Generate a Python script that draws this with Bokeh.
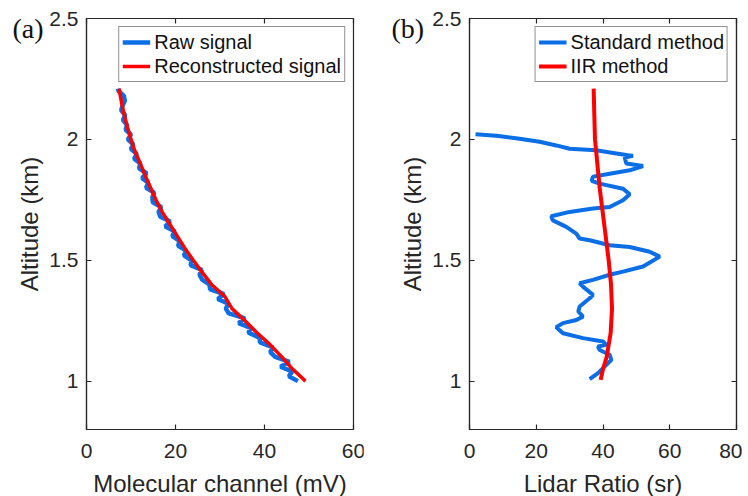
from bokeh.plotting import figure
from bokeh.layouts import row
from bokeh.models import LinearAxis, FixedTicker, Label, Range1d, CustomJSTickFormatter
from bokeh.embed import file_html
from bokeh.resources import INLINE

# ---------------- data ----------------
# panel (a): molecular channel (mV) vs altitude (km)
raw_alt = [1.00, 1.02, 1.04, 1.06, 1.08, 1.10, 1.12, 1.14, 1.16, 1.18, 1.20, 1.22, 1.24, 1.26, 1.28,
           1.30, 1.32, 1.34, 1.36, 1.38, 1.40, 1.42, 1.44, 1.46, 1.48, 1.50, 1.52, 1.54, 1.56, 1.58,
           1.60, 1.62, 1.64, 1.66, 1.68, 1.70, 1.72, 1.74, 1.76, 1.78, 1.80, 1.82, 1.84, 1.86, 1.88,
           1.90, 1.92, 1.94, 1.96, 1.98, 2.00, 2.02, 2.04, 2.06, 2.08, 2.10, 2.12, 2.14, 2.16, 2.18,
           2.20, 2.21]
raw_mv = [47.5, 45.5, 46.2, 43.6, 45.6, 42.4, 41.3, 41.9, 39.0, 38.9, 36.4, 36.9, 34.2, 35.6, 32.0,
          31.3, 31.9, 29.5, 30.9, 27.8, 27.6, 26.0, 25.4, 25.9, 23.4, 23.6, 21.9, 22.4, 20.6, 20.9,
          19.3, 19.8, 17.7, 18.8, 16.6, 16.2, 16.8, 14.9, 14.8, 15.2, 13.4, 13.9, 12.5, 13.5, 11.8,
          12.1, 10.7, 11.3, 10.0, 10.5, 9.3, 10.0, 8.8, 9.1, 8.2, 8.7, 7.8, 8.1, 8.6, 8.4,
          7.2, 7.1]
rec_alt = [1.00, 1.05, 1.10, 1.15, 1.20, 1.25, 1.30, 1.35, 1.40, 1.45, 1.50, 1.55, 1.60, 1.65,
           1.70, 1.75, 1.80, 1.85, 1.90, 1.95, 2.00, 2.05, 2.10, 2.15, 2.21]
rec_mv = [49.2, 46.3, 43.9, 41.3, 38.3, 35.6, 32.7, 31.1, 28.1, 26.0, 24.0, 22.1, 20.4, 18.7,
          17.0, 15.6, 14.4, 13.2, 12.1, 10.9, 10.0, 9.2, 8.5, 7.9, 7.3]

# panel (b): lidar ratio (sr) vs altitude (km)
std_lr = [1.8, 8, 15, 21, 26, 30, 38, 44, 47.5, 49, 46.5, 47, 52, 48, 42, 37, 36.6, 39, 46, 48,
          46, 42, 37, 30, 24.5, 25, 29, 32, 33, 36, 42, 48, 54, 57, 52, 46, 42, 37, 33, 34,
          37, 36, 33, 32.6, 34, 32, 28, 26, 28, 34, 40, 41, 38.5, 39, 42, 42.5, 41, 38.5, 36]
std_alt = [2.021, 2.015, 2.003, 1.990, 1.975, 1.961, 1.955, 1.942, 1.934, 1.932, 1.925, 1.900, 1.890,
           1.872, 1.858, 1.846, 1.828, 1.817, 1.796, 1.773, 1.748, 1.720, 1.714, 1.700, 1.682, 1.665,
           1.638, 1.610, 1.590, 1.583, 1.562, 1.555, 1.535, 1.515, 1.474, 1.453, 1.440, 1.419, 1.405,
           1.391, 1.357, 1.343, 1.309, 1.288, 1.267, 1.253, 1.240, 1.223, 1.198, 1.178, 1.164, 1.150,
           1.143, 1.129, 1.109, 1.088, 1.067, 1.033, 1.008]
iir_alt = [2.21, 2.10, 2.00, 1.90, 1.80, 1.70, 1.60, 1.50, 1.40, 1.30, 1.20, 1.10, 1.05, 1.005]
iir_lr = [37.2, 37.4, 37.6, 38.3, 39.0, 39.9, 40.8, 41.7, 42.4, 42.7, 42.3, 41.1, 40.0, 39.3]

# axes
alt_ticks = [1, 1.5, 2, 2.5]
alt_tick_labels = ["1", "1.5", "2", "2.5"]
a_x_ticks = [0, 20, 40, 60]
b_x_ticks = [0, 20, 40, 60, 80]

BLUE = "#0a6ee6"
RED = "#ff0000"
AXC = "#262626"
FONT = "Liberation Sans"


def style(p, xticks, xlabel):
    bx = p.below[0]
    ly = p.left[0]
    bx.ticker = FixedTicker(ticks=xticks)
    ly.ticker = FixedTicker(ticks=alt_ticks)
    ly.major_label_overrides = {t: l for t, l in zip(alt_ticks, alt_tick_labels)}
    bx.axis_label = xlabel
    ly.axis_label = "Altitude (km)"
    p.grid.visible = False
    p.outline_line_color = AXC
    p.outline_line_width = 1.2
    blank = CustomJSTickFormatter(code="return ''")
    top = LinearAxis(ticker=FixedTicker(ticks=xticks), formatter=blank, major_label_standoff=0)
    right = LinearAxis(ticker=FixedTicker(ticks=alt_ticks), formatter=blank, major_label_standoff=0)
    p.add_layout(top, "above")
    p.add_layout(right, "right")
    for ax in [bx, ly, top, right]:
        ax.major_tick_in = 5
        ax.major_tick_out = 0
        ax.minor_tick_line_color = None
        ax.axis_line_color = AXC
        ax.axis_line_width = 1.2
        ax.major_tick_line_color = AXC
        ax.major_tick_line_width = 1.2
        ax.major_label_text_color = AXC
        ax.major_label_text_font = FONT
        ax.major_label_text_font_size = "21px"
    for ax in [bx, ly]:
        ax.axis_label_text_font = FONT
        ax.axis_label_text_font_style = "normal"
        ax.axis_label_text_color = AXC
        ax.axis_label_text_font_size = "24px"
    bx.major_label_standoff = 14
    bx.axis_label_standoff = 9
    ly.major_label_standoff = 8
    ly.axis_label_standoff = 3


def legend_style(p):
    lg = p.legend[0]
    lg.location = "top_right"
    lg.margin = 8
    lg.padding = 3
    lg.spacing = 0
    lg.label_text_font = FONT
    lg.label_text_font_size = "20px"
    lg.label_text_color = "#111111"
    lg.glyph_width = 28
    lg.glyph_height = 24
    lg.label_height = 24
    lg.label_standoff = 4
    lg.border_line_color = AXC
    lg.border_line_width = 1.2
    lg.background_fill_alpha = 1.0


# ---------------- panel (a) ----------------
pa = figure(frame_width=267, frame_height=411, x_range=Range1d(0, 60), y_range=Range1d(0.8, 2.5),
            output_backend="svg", toolbar_location=None,
            min_border_left=86, min_border_right=40, min_border_top=18, min_border_bottom=60)
pa.line(raw_mv, raw_alt, color=BLUE, line_width=4.5, legend_label="Raw signal")
pa.line(rec_mv, rec_alt, color=RED, line_width=3.5, legend_label="Reconstructed signal")
# panel tag, hosted in the right border (inner-most) and drawn at the far left
pa.add_layout(Label(x=-341, y=401, x_units="screen", y_units="screen", text="(a)",
                    text_font="Liberation Serif", text_font_size="28px",
                    text_baseline="alphabetic", text_color="#111111"), "right")
style(pa, a_x_ticks, "Molecular channel (mV)")
legend_style(pa)

# ---------------- panel (b) ----------------
pb = figure(frame_width=267, frame_height=411, x_range=Range1d(0, 80), y_range=Range1d(0.8, 2.5),
            output_backend="svg", toolbar_location=None,
            min_border_left=104, min_border_right=6, min_border_top=18, min_border_bottom=60,
            margin=(0, 0, 0, -30))
pb.line(std_lr, std_alt, color=BLUE, line_width=4, legend_label="Standard method")
pb.line(iir_lr, iir_alt, color=RED, line_width=4, legend_label="IIR method")
pb.add_layout(Label(x=28, y=401, x_units="screen", y_units="screen", text="(b)",
                    text_font="Liberation Serif", text_font_size="28px",
                    text_baseline="alphabetic", text_color="#111111"), "left")
style(pb, b_x_ticks, "Lidar Ratio (sr)")
legend_style(pb)

layout = row(pa, pb, spacing=0)
open("out.html", "w").write(file_html(layout, INLINE))
